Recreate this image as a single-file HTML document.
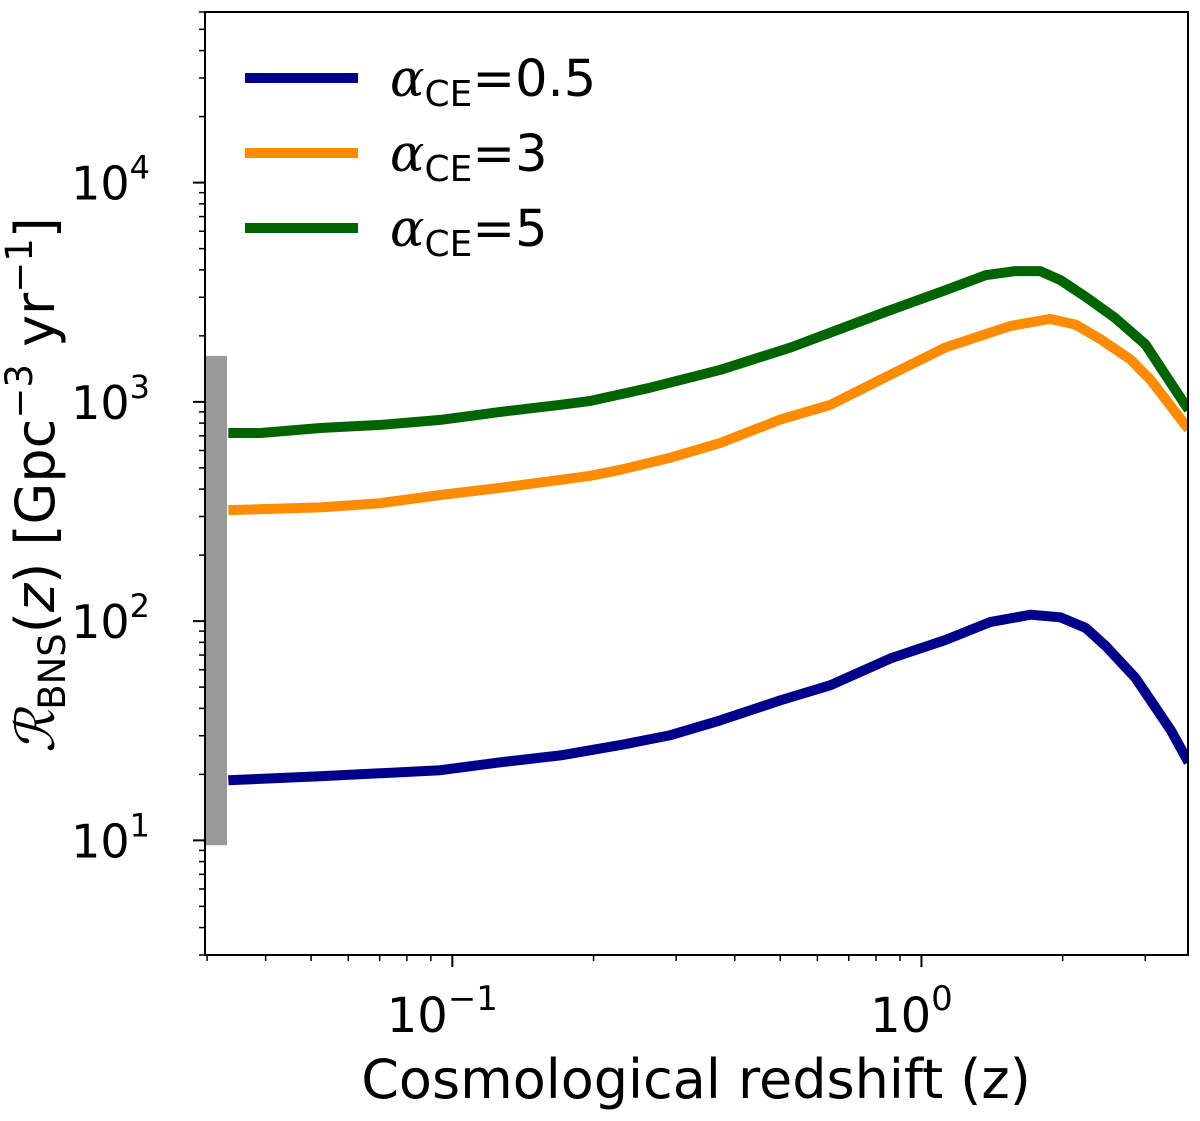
<!DOCTYPE html>
<html><head><meta charset="utf-8"><style>
html,body{margin:0;padding:0;background:#fff;}
svg{display:block;font-family:"DejaVu Sans","Liberation Sans",sans-serif;}
</style></head><body>
<svg id="chart" width="1200" height="1121" viewBox="0 0 1200 1121"></svg>
<script>
const zBlue=[0.0333,0.0523,0.0943,0.1265,0.170,0.228,0.292,0.373,0.500,0.640,0.859,1.125,1.40,1.71,1.98,2.24,2.47,2.86,3.40,3.71];
const vBlue=[18.8,19.6,20.9,22.7,24.4,27.2,30.2,35.3,43.5,51,67.6,82,99,107,104,93,77,55,31.8,22.7];
const zOrange=[0.0333,0.0523,0.0702,0.0943,0.1265,0.170,0.197,0.228,0.292,0.373,0.500,0.640,0.859,1.125,1.55,1.88,2.13,2.41,2.79,3.08,3.71];
const vOrange=[321,330,345,376,405,441,460,490,557,650,830,970,1330,1770,2220,2390,2250,1930,1560,1260,750];
const zGreen=[0.0333,0.039,0.0523,0.0702,0.0943,0.1265,0.170,0.197,0.264,0.373,0.526,0.640,0.859,1.125,1.37,1.585,1.79,1.98,2.24,2.59,3.0,3.71];
const vGreen=[721,721,760,785,827,900,970,1010,1160,1400,1770,2070,2620,3230,3780,3950,3950,3590,3010,2410,1830,920];
const obsRange=[9.5,1620];
const xTicks=[0.1,1];
const xTickLabels=["10","10"];
const xTickExps=["−1","0"];
const yTicks=[10,100,1000,10000];
const yTickExps=["1","2","3","4"];

const L=205,R=1188,T=12,B=955;
const xMin=Math.log10(0.0297),xMax=Math.log10(3.7);
const yMin=Math.log10(3.0),yMax=Math.log10(60000);
const X=z=>L+(Math.log10(z)-xMin)/(xMax-xMin)*(R-L);
const Y=v=>B-(Math.log10(v)-yMin)/(yMax-yMin)*(B-T);
const svg=document.getElementById('chart');
const NS='http://www.w3.org/2000/svg';
function el(tag,attrs,parent){const e=document.createElementNS(NS,tag);for(const k in attrs)e.setAttribute(k,attrs[k]);(parent||svg).appendChild(e);return e;}

const defs=el('defs',{});
const cp=el('clipPath',{id:'clip'},defs);
el('rect',{x:L,y:T,width:R-L,height:B-T},cp);

const bar=el('rect',{x:X(0.0297)+1,y:Y(obsRange[1]),width:21,height:Y(obsRange[0])-Y(obsRange[1]),fill:'#999999'});



function series(zs,vs,color,name){
  const d=zs.map((z,i)=>(i?'L':'M')+X(z).toFixed(1)+','+Y(vs[i]).toFixed(1)).join(' ');
  const p=el('path',{d:d,fill:'none',stroke:color,'stroke-width':10,'stroke-linejoin':'round','clip-path':'url(#clip)'});
  
  
}
series(zGreen,vGreen,'#006400','line-alpha-5');
series(zOrange,vOrange,'#ff8c00','line-alpha-3');
series(zBlue,vBlue,'#00008b','line-alpha-0.5');

const fr=el('rect',{x:L,y:T,width:R-L,height:B-T,fill:'none',stroke:'#000','stroke-width':2});



for(let e=-2;e<=0;e++){for(let m=1;m<10;m++){const z=m*Math.pow(10,e);const x=X(z);if(x<L-0.5||x>R+0.5)continue;
  el('line',{x1:x,x2:x,y1:B,y2:B+(m===1?12:6),stroke:'#000','stroke-width':m===1?2:1.5});}}
xTicks.forEach((t,i)=>{
  const tx=el('text',{x:X(t)-10,y:1032,'font-size':48,'text-anchor':'middle',fill:'#000'});
  
  
  tx.textContent=xTickLabels[i];
  const s=el('tspan',{dy:-22,'font-size':34},tx);s.textContent=xTickExps[i];
});
for(let e=0;e<=4;e++){for(let m=1;m<10;m++){const v=m*Math.pow(10,e);const y=Y(v);if(y<T-0.5||y>B+0.5)continue;
  el('line',{x1:L,x2:L-(m===1?12:6),y1:y,y2:y,stroke:'#000','stroke-width':m===1?2:1.5});}}
yTicks.forEach((t,i)=>{
  const tx=el('text',{x:150,y:Y(t)+17,'font-size':46,'text-anchor':'end',fill:'#000'});
  
  
  tx.textContent='10';
  const s=el('tspan',{dy:-21,'font-size':32},tx);s.textContent=yTickExps[i];
});
</script>
<svg style="position:absolute;left:0;top:0" width="1200" height="1121">
<text x="696" y="1098" font-size="54" text-anchor="middle" font-family="DejaVu Sans, sans-serif">Cosmological redshift (z)</text>
<text transform="translate(54,485) rotate(-90)" font-size="54" text-anchor="middle" font-family="DejaVu Sans, sans-serif"><tspan font-family="DejaVu Serif, serif" font-style="italic">ℛ</tspan><tspan font-size="37" dy="11">BNS</tspan><tspan dy="-11">(</tspan><tspan font-style="italic">z</tspan>) [Gpc<tspan font-size="37" dy="-22">−3</tspan><tspan dy="22"> yr</tspan><tspan font-size="37" dy="-22">−1</tspan><tspan dy="22">]</tspan></text>
<g font-family="DejaVu Sans, sans-serif">
<g><line x1="245" x2="358" y1="78" y2="78" stroke="#00008b" stroke-width="10"/><text x="390" y="96" font-size="51"><tspan font-family="DejaVu Serif, serif" font-style="italic">α</tspan><tspan font-size="36" dy="10">CE</tspan><tspan dy="-10">=0.5</tspan></text></g>
<g><line x1="245" x2="358" y1="153" y2="153" stroke="#ff8c00" stroke-width="10"/><text x="390" y="171" font-size="51"><tspan font-family="DejaVu Serif, serif" font-style="italic">α</tspan><tspan font-size="36" dy="10">CE</tspan><tspan dy="-10">=3</tspan></text></g>
<g><line x1="245" x2="358" y1="228" y2="228" stroke="#006400" stroke-width="10"/><text x="390" y="246" font-size="51"><tspan font-family="DejaVu Serif, serif" font-style="italic">α</tspan><tspan font-size="36" dy="10">CE</tspan><tspan dy="-10">=5</tspan></text></g>
</g>
</svg>
</body></html>
